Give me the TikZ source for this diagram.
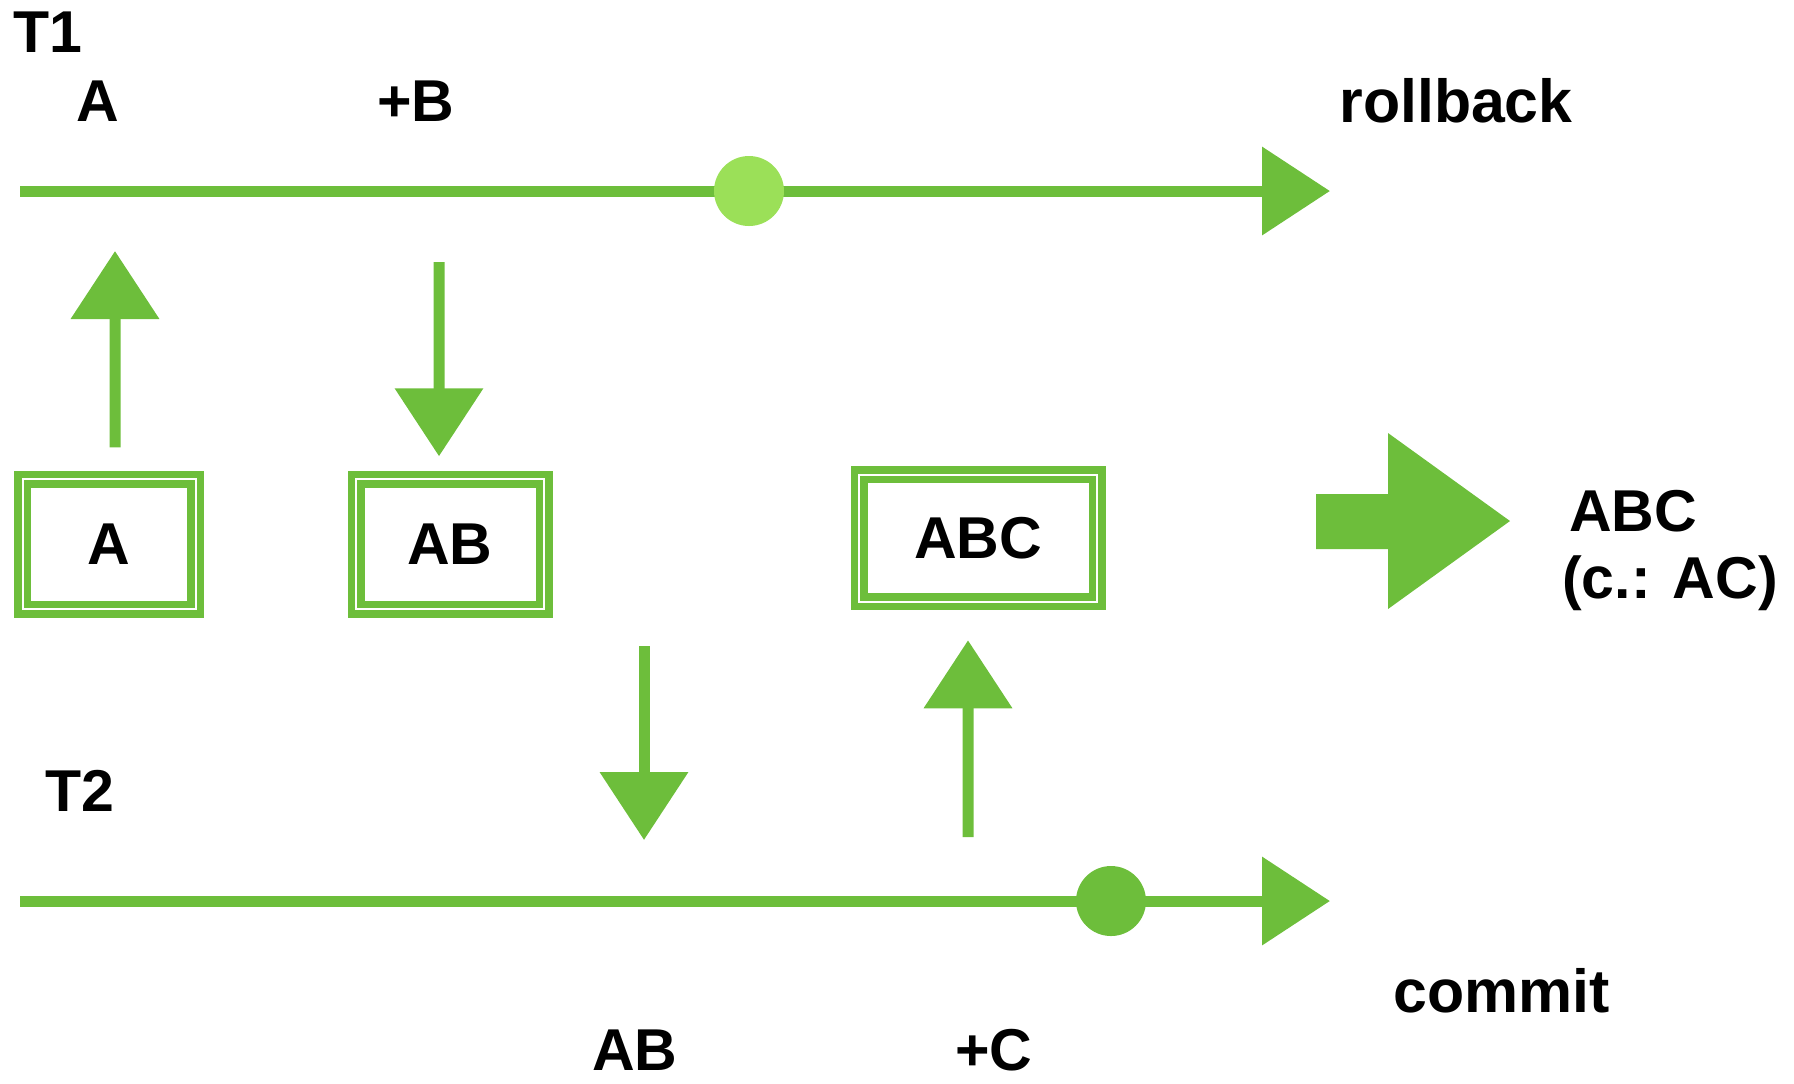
\documentclass[tikz,border=0pt]{standalone}
\usepackage{fontspec}
\setmainfont{Liberation Sans}
\usetikzlibrary{arrows.meta, positioning}
\definecolor{chalk}{RGB}{109,190,59}
\definecolor{chalklight}{RGB}{155,224,88}

\begin{document}
\begin{tikzpicture}[x=0.1mm, y=-0.1mm, semithick]
\tikzstyle{flow}=[draw=chalk, line width=1.1mm, -{Triangle[length=6.8mm,width=8.6mm]}]
\tikzstyle{snap}=[draw=chalk, double=white, line width=0.75mm, double distance=0.2mm, inner sep=0, font=\fontsize{16.8}{20}\selectfont\bfseries]
\tikzstyle{dot}=[circle, minimum size=7mm, inner sep=0]
\tikzstyle{lbl}=[inner sep=0, anchor=base, font=\fontsize{16.8}{20}\selectfont\bfseries]
\tikzstyle{lblbig}=[lbl, font=\fontsize{17.3}{20}\selectfont\bfseries]
\useasboundingbox (0,0) rectangle (1794,1083);

\coordinate (t1s) at (20,191);
\coordinate (t1e) at (1330,191);
\coordinate (t2s) at (20,901);
\coordinate (t2e) at (1330,901);

\node[snap, minimum width=17.3mm, minimum height=13mm]	(bA)	at (109,544)	{A};
\node[snap, minimum width=18.8mm, minimum height=13mm]	(bAB)	at (450,544)	{AB};
\node[snap, minimum width=23.8mm, minimum height=12.7mm]	(bABC)	at (978,538)	{ABC};

\coordinate (uA) at (115,251);
\coordinate (dB) at (439,262);
\coordinate (dAB1) at (644,646);
\coordinate (dAB2) at (644,840);
\coordinate (uC) at (968,837);

\path[flow] (t1s) -- (t1e);
\path[flow] (t2s) -- (t2e);
\node[dot, fill=chalklight]	(rb)	at (749,191)	{};
\node[dot, fill=chalk]		(cm)	at (1111,901)	{};

\path[flow]
([xshift=0.6mm,yshift=2.8mm]bA.north)	-- (uA);
\path[flow]
(dB)	-- ([xshift=-1.1mm,yshift=1.9mm]bAB.north);
\path[flow]
(dAB1)	-- (dAB2);
\path[flow]
(uC)	-- ([xshift=-1mm,yshift=-3.5mm]bABC.south);

\fill[chalk] (1316,494) -- (1388,494) -- (1388,433) -- (1510,521) -- (1388,609) -- (1388,549) -- (1316,549) -- cycle;

\node[lbl, anchor=base west]	(T1)	at (12,52)	{T1};
\node[lbl]		(lA)	at (98,121)	{A};
\node[lbl]		(lB)	at (416,121)	{+B};
\node[lblbig]		(lrb)	at (1456,122)	{rollback};
\node[lbl]		(rABC)	at (1633,531)	{ABC};
\node[lbl]		(rAC)	at (1670,598)	{(c.: AC)};
\node[lbl, anchor=base west]	(T2)	at (44,811)	{T2};
\node[lblbig]		(lcm)	at (1502,1012)	{commit};
\node[lbl]		(lAB)	at (635,1070)	{AB};
\node[lbl]		(lC)	at (994,1070)	{+C};

\end{tikzpicture}
\end{document}
